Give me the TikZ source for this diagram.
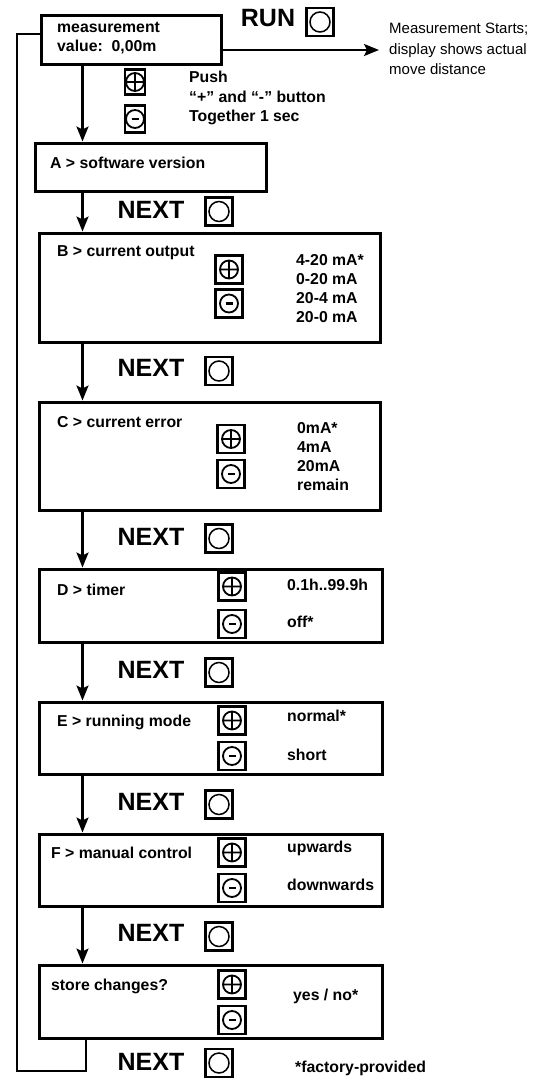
\documentclass[tikz,border=0pt]{standalone}
\usepackage{fontspec}
\setmainfont{Liberation Sans}
\usetikzlibrary{arrows.meta,fit}

\begin{document}
\begin{tikzpicture}[x=1pt,y=-1pt,>={Stealth[length=15pt,width=12pt,inset=3pt]},
  lbl/.style={font=\fontsize{15.8}{19.5}\selectfont\bfseries,inner sep=0pt,anchor=west,align=left},
  note/.style={font=\fontsize{15}{20.5}\selectfont,inner sep=0pt,anchor=west,align=left},
  big/.style={font=\fontsize{25}{25}\selectfont\bfseries,inner sep=0pt},
  stepbox/.style={draw,line width=3pt,inner sep=0pt},
  keybtn/.style={draw,line width=2.6pt,inner sep=0pt,minimum width=27.5pt,minimum height=28pt},
  plusbtn/.style={keybtn,path picture={\draw[line width=1.8pt] (path picture bounding box.center) circle (9pt) +(-9pt,0) -- +(9pt,0) +(0,-9pt) -- +(0,9pt);}},
  minusbtn/.style={keybtn,path picture={\draw[line width=1.8pt] (path picture bounding box.center) circle (9pt); \draw[line width=2.6pt] (path picture bounding box.center) +(-3.5pt,0) -- +(3.5pt,0);}},
  nextbtn/.style={keybtn,path picture={\draw[line width=1.5pt] (path picture bounding box.center) circle (10pt);}},
  flow/.style={->,line width=2.3pt},
]
\useasboundingbox (0,0) rectangle (548,1079);

\node[stepbox,fit={(41,15) (221,64)}] (M) {};
\node[lbl] (Mt) at (57,38) {measurement\\value:\ \ 0,00m};
\node[big] (run) at (268,18) {RUN};
\node[nextbtn] (runbtn) at (320,22) {};
\coordinate (runend) at (379,50);
\node[note] (runtxt) at (389,49) {Measurement Starts;\\display shows actual\\move distance};
\draw[flow] (runend -| M.east) -- (runend);

\node[plusbtn,minimum width=20pt,minimum height=25pt] (p0) at (135,82) {};
\node[minusbtn,minimum width=20pt,minimum height=27pt] (m0) at (135,119) {};
\node[lbl] (push) at (189,98) {Push\\“+” and “-” button\\Together 1 sec};

\node[stepbox,fit={(35,143) (266,191)}] (A) {};
\node[lbl] (At) at (50,163) {A > software version};

\node[stepbox,fit={(39,233) (380,342)}] (B) {};
\node[lbl] (Bt) at (57,253) {B > current output};
\node[plusbtn] (pB) at (229,269.5) {};
\node[minusbtn] (mB) at (229,303.5) {};
\node[lbl,font=\fontsize{15.8}{19}\selectfont\bfseries] (Bo) at (296,288.5) {4-20 mA*\\0-20 mA\\20-4 mA\\20-0 mA};

\node[stepbox,fit={(39,402) (380,510)}] (C) {};
\node[lbl] (Ct) at (57,422) {C > current error};
\node[plusbtn] (pC) at (231,439) {};
\node[minusbtn] (mC) at (231,474) {};
\node[lbl,font=\fontsize{15.8}{19}\selectfont\bfseries] (Co) at (297,456.5) {0mA*\\4mA\\20mA\\remain};

\node[stepbox,fit={(39,569) (382,642)}] (D) {};
\node[lbl] (Dt) at (57,590) {D > timer};
\node[plusbtn] (pD) at (232,586.5) {};
\node[minusbtn] (mD) at (232,624) {};
\node[lbl] (Dp) at (287,585) {0.1h..99.9h};
\node[lbl] (Dm) at (287,622) {off*};

\node[stepbox,fit={(39,702) (382,774)}] (E) {};
\node[lbl] (Et) at (57,722) {E > running mode};
\node[plusbtn] (pE) at (232,720.5) {};
\node[minusbtn] (mE) at (232,756) {};
\node[lbl] (Ep) at (287,716) {normal*};
\node[lbl] (Em) at (287,755) {short};

\node[stepbox,fit={(39,834) (382,906)}] (F) {};
\node[lbl] (Ft) at (51,853) {F > manual control};
\node[plusbtn] (pF) at (232,852.5) {};
\node[minusbtn] (mF) at (232,888) {};
\node[lbl] (Fp) at (287,848) {upwards};
\node[lbl] (Fm) at (287,885) {downwards};

\node[stepbox,fit={(39,965) (382,1038)}] (G) {};
\node[lbl] (Gt) at (51,986) {store changes?};
\node[plusbtn] (pG) at (232,984.5) {};
\node[minusbtn] (mG) at (232,1020) {};
\node[lbl] (Go) at (293,996) {yes / no*};

\node[big] (n1) at (151,210) {NEXT};
\node[nextbtn] (n1b) at (219,211.5) {};
\node[big] (n2) at (151,368) {NEXT};
\node[nextbtn] (n2b) at (219,371) {};
\node[big] (n3) at (151,537) {NEXT};
\node[nextbtn] (n3b) at (219,538.5) {};
\node[big] (n4) at (151,670) {NEXT};
\node[nextbtn] (n4b) at (219,672.5) {};
\node[big] (n5) at (151,802) {NEXT};
\node[nextbtn] (n5b) at (219,804.5) {};
\node[big] (n6) at (151,933) {NEXT};
\node[nextbtn] (n6b) at (219,936.5) {};
\node[big] (n7) at (151,1062) {NEXT};
\node[nextbtn] (n7b) at (219,1063) {};
\node[lbl] (fac) at (295,1068) {*factory-provided};

\coordinate (spine) at (82.5,0);
\draw[flow] (spine |- M.south) -- (spine |- A.north);
\draw[flow] (spine |- A.south) -- (spine |- B.north);
\draw[flow] (spine |- B.south) -- (spine |- C.north);
\draw[flow] (spine |- C.south) -- (spine |- D.north);
\draw[flow] (spine |- D.south) -- (spine |- E.north);
\draw[flow] (spine |- E.south) -- (spine |- F.north);
\draw[flow] (spine |- F.south) -- (spine |- G.north);

\coordinate (ret) at (86,1071);
\coordinate (loopx) at (17,34);
\draw[line width=2.3pt] (ret |- G.south) -- (ret) -| (loopx) -- (loopx -| M.west);
\end{tikzpicture}
\end{document}
